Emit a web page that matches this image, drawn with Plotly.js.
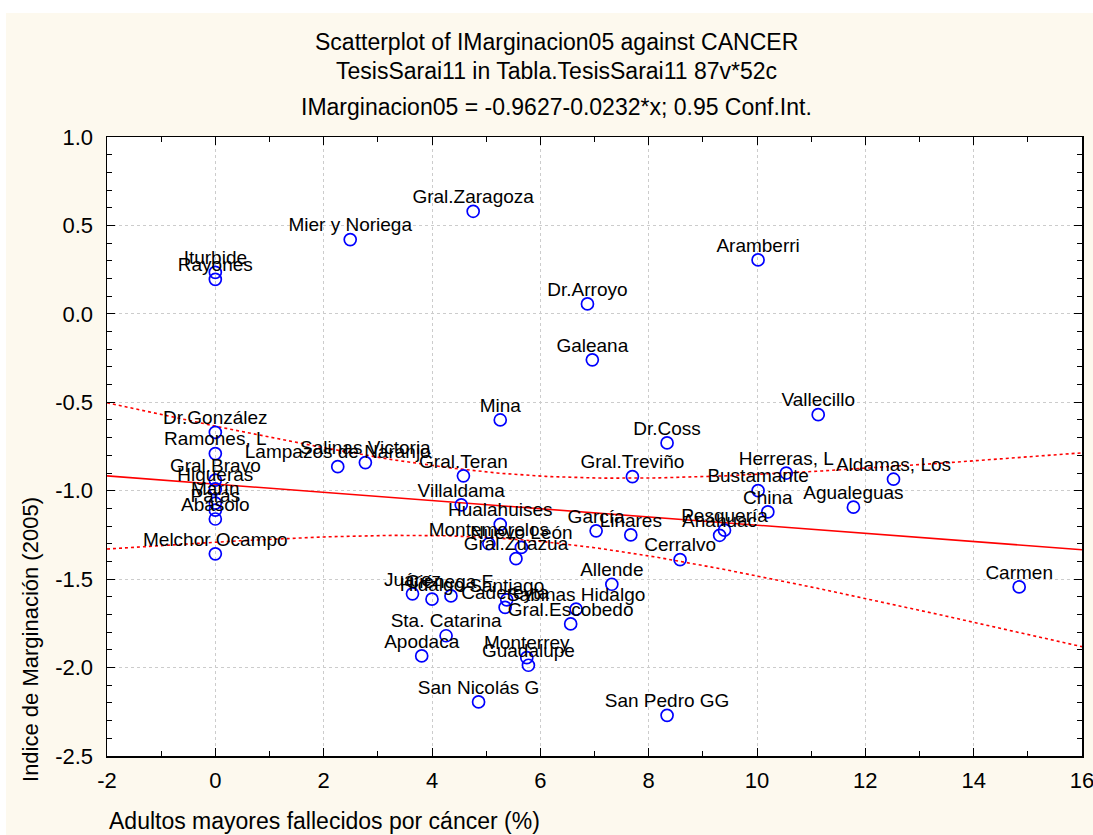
<!DOCTYPE html>
<html>
<head>
<meta charset="utf-8">
<script src="https://cdn.plot.ly/plotly-3.0.1.min.js"></script>
<style>
html,body{margin:0;padding:0;background:#ffffff;overflow:hidden;}
#chart{position:absolute;left:6px;top:13px;width:1110px;height:822px;}
</style>
</head>
<body>
<div id="chart"></div>
<script>
// Municipality names
const names = ["Gral.Zaragoza","Mier y Noriega","Iturbide","Rayones","Aramberri","Dr.Arroyo","Galeana","Mina","Vallecillo","Dr.Coss",
"Dr.González","Ramones, L","Gral.Bravo","Higueras","Marín","Parás","Abasolo","Lampazos de Naranjo","Salinas Victoria","Melchor Ocampo",
"Gral.Teran","Villaldama","Hualahuises","Montemorelos","Nuevo León","Gral.Zuazua","García","Linares","Gral.Treviño","Herreras, L",
"Bustamante","Aldamas, Los","China","Agualeguas","Pesquería","Anáhuac","Cerralvo","Carmen","Allende","Juárez",
"Hidalgo","Ciénega F.","Santiago","Cadereyta","Sabinas Hidalgo","Gral.Escobedo","Sta. Catarina","Apodaca","Monterrey","Guadalupe",
"San Nicolás G","San Pedro GG"];
// Adultos mayores fallecidos por cáncer (%)
const cancer = [4.76,2.49,0,0,10.02,6.87,6.96,5.26,11.13,8.34,
0,0,0,0,0,0,0,2.26,2.77,0,
4.58,4.54,5.26,5.05,5.65,5.55,7.03,7.67,7.70,10.54,
10.02,12.52,10.20,11.78,9.40,9.31,8.58,14.84,7.32,3.64,
4.00,4.35,5.38,5.35,6.66,6.56,4.26,3.81,5.75,5.78,
4.86,8.34];
// Indice de Marginación (2005)
const imarg = [0.58,0.42,0.235,0.195,0.305,0.056,-0.26,-0.60,-0.57,-0.73,
-0.67,-0.79,-0.94,-0.99,-1.07,-1.11,-1.16,-0.864,-0.841,-1.357,
-0.916,-1.08,-1.19,-1.30,-1.32,-1.384,-1.227,-1.25,-0.92,-0.90,
-1.00,-0.935,-1.12,-1.093,-1.223,-1.252,-1.39,-1.544,-1.529,-1.583,
-1.613,-1.595,-1.617,-1.66,-1.67,-1.753,-1.82,-1.934,-1.944,-1.987,
-2.194,-2.27];
// Regression coefficients (from the title)
const intercept = -0.9627;
const slope = -0.0232;
const confLevelT = 2.0086; // t(0.975, df=50)

// Axis ticks
const xTickVals = [-2,0,2,4,6,8,10,12,14,16];
const xTickText = ["-2","0","2","4","6","8","10","12","14","16"];
const yTickVals = [-2.5,-2.0,-1.5,-1.0,-0.5,0.0,0.5,1.0];
const yTickText = ["-2.5","-2.0","-1.5","-1.0","-0.5","0.0","0.5","1.0"];

const xRange = [-2, 16];
const yRange = [-2.5, 1.0];

// regression line & confidence band computed from the data
const n = cancer.length;
const xbar = cancer.reduce((a,b)=>a+b,0)/n;
const Sxx = cancer.reduce((a,x)=>a+(x-xbar)*(x-xbar),0);
const SSE = cancer.reduce((a,x,i)=>{const r = imarg[i]-(intercept+slope*x); return a+r*r;},0);
const s = Math.sqrt(SSE/(n-2));
const gx=[], fit=[], up=[], lo=[];
for(let k=0;k<=180;k++){
  const x = xRange[0] + k*(xRange[1]-xRange[0])/180;
  const f = intercept + slope*x;
  const h = confLevelT*s*Math.sqrt(1/n + (x-xbar)*(x-xbar)/Sxx);
  gx.push(x); fit.push(f); up.push(f+h); lo.push(f-h);
}

const FONT = "Liberation Sans, Arial, sans-serif";
const traces = [
  {x:gx, y:fit, mode:'lines', line:{color:'#ff0000', width:1.6}, hoverinfo:'skip'},
  {x:gx, y:up, mode:'lines', line:{color:'#ff0000', width:1.6, dash:'dot'}, hoverinfo:'skip'},
  {x:gx, y:lo, mode:'lines', line:{color:'#ff0000', width:1.6, dash:'dot'}, hoverinfo:'skip'},
  {x:cancer, y:imarg, mode:'markers',
   marker:{symbol:'circle-open', size:12, color:'#0000ff', line:{width:1.7, color:'#0000ff'}},
   cliponaxis:false},
  {x:cancer, y:imarg, text:names, mode:'markers+text', textposition:'top center',
   textfont:{family:FONT, size:19, color:'#000000'},
   marker:{size:4, opacity:0, color:'#0000ff'},
   cliponaxis:false}
];

const axisCommon = {
  showline:true, linecolor:'#000000', linewidth:1.5, mirror:'allticks',
  ticks:'inside', ticklen:8, tickwidth:1, tickcolor:'#000000',
  showgrid:true, gridcolor:'#cccccc', griddash:'dot', gridwidth:1,
  zeroline:false, tickfont:{family:FONT, size:22, color:'#000000'},
  tickmode:'array'
};

const layout = {
  width:1110, height:822,
  paper_bgcolor:'#fdf9ee', plot_bgcolor:'#ffffff',
  showlegend:false,
  margin:{l:101, r:34, t:124, b:79},
  xaxis:Object.assign({}, axisCommon, {range:xRange, tickvals:xTickVals, ticktext:xTickText, ticklabelstandoff:4,
     minor:{dtick:1, tick0:0, ticklen:5, tickcolor:'#000000', ticks:'inside', showgrid:false}}),
  yaxis:Object.assign({}, axisCommon, {range:yRange, tickvals:yTickVals, ticktext:yTickText, ticklabelstandoff:8,
     minor:{dtick:0.1, tick0:0, ticklen:5, tickcolor:'#000000', ticks:'inside', showgrid:false}}),
  annotations:[
    {text:'Scatterplot of IMarginacion05 against CANCER', xref:'paper', yref:'paper', x:0.4615, y:1.1535, showarrow:false, xanchor:'center', yanchor:'middle', font:{family:FONT, size:23, color:'#000'}},
    {text:'TesisSarai11 in Tabla.TesisSarai11 87v*52c', xref:'paper', yref:'paper', x:0.4615, y:1.1066, showarrow:false, xanchor:'center', yanchor:'middle', font:{family:FONT, size:23, color:'#000'}},
    {text:'IMarginacion05 = -0.9627-0.0232*x; 0.95 Conf.Int.', xref:'paper', yref:'paper', x:0.4615, y:1.0485, showarrow:false, xanchor:'center', yanchor:'middle', font:{family:FONT, size:23, color:'#000'}},
    {text:'Adultos mayores fallecidos por cáncer (%)', xref:'paper', yref:'paper', x:0, y:-0.105, showarrow:false, xanchor:'left', yanchor:'middle', font:{family:FONT, size:23, color:'#000'}},
    {text:'Indice de Marginación (2005)', xref:'paper', yref:'paper', x:-0.079, y:0.189, textangle:-90, showarrow:false, xanchor:'center', yanchor:'middle', font:{family:FONT, size:22, color:'#000'}}
  ]
};

Plotly.newPlot('chart', traces, layout, {displayModeBar:false, staticPlot:true});
</script>
</body>
</html>
